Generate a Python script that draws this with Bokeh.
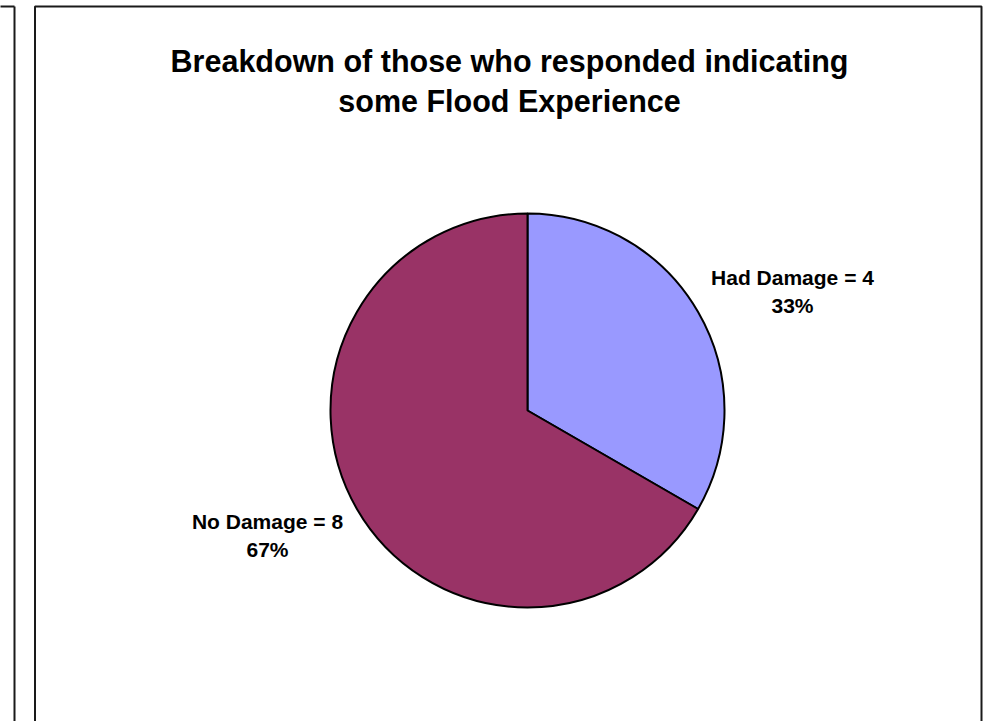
import math
from bokeh.plotting import figure
from bokeh.models import Range1d, ColumnDataSource
from bokeh.core.properties import value
from bokeh.embed import file_html
from bokeh.resources import INLINE

# ---- data ----
categories = ["Had Damage", "No Damage"]
counts = [4, 8]
colors = ["#9999FF", "#993366"]
title_lines = ["Breakdown of those who responded indicating", "some Flood Experience"]

W, H = 995, 721
p = figure(width=W, height=H, output_backend="svg", toolbar_location=None,
           x_range=Range1d(0, W), y_range=Range1d(0, H), min_border=0)
p.axis.visible = False
p.grid.visible = False
p.outline_line_color = None
p.background_fill_color = "white"
p.border_fill_color = "white"

def Y(py):
    return H - py

# frames (chart area borders)
p.quad(left=[34.5], right=[981], top=[Y(6)], bottom=[-10], fill_color=None,
       line_color="#1a1a1a", line_width=2)
p.segment(x0=[-10, 14], y0=[Y(6), Y(6)], x1=[14, 14], y1=[Y(6), -10],
          line_color="#1a1a1a", line_width=2)

# pie
cx, cy, r = 527, Y(410), 197
total = sum(counts)
starts, ends, cum = [], [], 0
for c in counts:
    starts.append(math.pi / 2 - 2 * math.pi * cum / total)
    cum += c
    ends.append(math.pi / 2 - 2 * math.pi * cum / total)
src = ColumnDataSource(dict(start=starts, end=ends, color=colors))
p.wedge(x=cx, y=cy, radius=r, start_angle="start", end_angle="end",
        direction="clock", fill_color="color", line_color="black",
        line_width=2, source=src)

# labels
label_pos = [(792, 277), (267, 521)]
for (lx, ly), cat, cnt in zip(label_pos, categories, counts):
    pct = round(100 * cnt / total)
    p.text(x=[lx], y=[Y(ly)], text=[f"{cat} = {cnt}"], text_align="center",
           text_baseline="middle", text_font=value("Liberation Sans"),
           text_font_style="bold", text_font_size="21px", text_color="black")
    p.text(x=[lx], y=[Y(ly + 28)], text=[f"{pct}%"], text_align="center",
           text_baseline="middle", text_font=value("Liberation Sans"),
           text_font_style="bold", text_font_size="21px", text_color="black")

# title
for i, t in enumerate(title_lines):
    p.text(x=[509], y=[Y(60 + 40 * i)], text=[t], text_align="center",
           text_baseline="middle", text_font=value("Liberation Sans"),
           text_font_style="bold", text_font_size="30.5px", text_color="black")

open("out.html", "w").write(file_html(p, INLINE))
